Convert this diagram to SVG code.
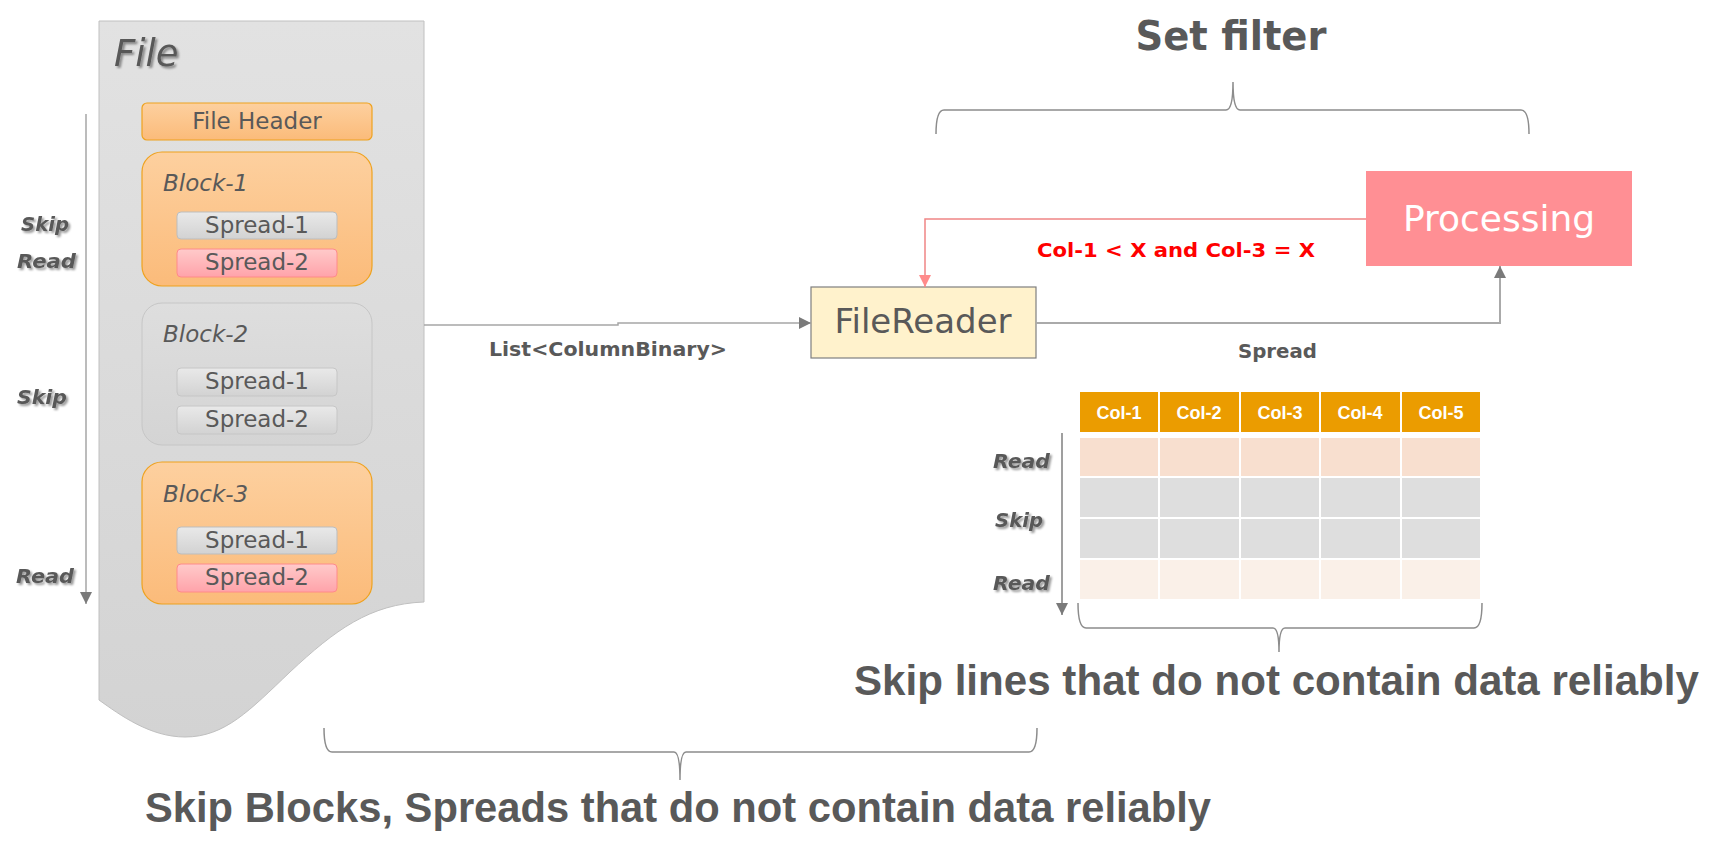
<svg xmlns="http://www.w3.org/2000/svg" width="1721" height="858" viewBox="0 0 1721 858">
<style>
.lbl{font-family:"DejaVu Sans",Verdana,sans-serif;fill:#595959}
.sh{filter:url(#shadow)}
.bi{font-weight:bold;font-style:italic;font-size:20px}
.big{font-family:"Liberation Sans",Arial,sans-serif;font-weight:bold;fill:#595959}
.spread{font-family:"DejaVu Sans",Verdana,sans-serif;font-size:23px;fill:#595959;text-anchor:middle}
.blk{font-family:"DejaVu Sans",Verdana,sans-serif;font-size:23px;font-style:italic;fill:#595959}
.brace{fill:none;stroke:#8c8c8c;stroke-width:1.5}
.hdr{font-family:"Liberation Sans",Arial,sans-serif;font-weight:bold;font-size:18px;fill:#ffffff;text-anchor:middle}
</style>
<defs>
<linearGradient id="gFile" x1="0" y1="0" x2="0" y2="1"><stop offset="0" stop-color="#e2e2e2"/><stop offset="1" stop-color="#d3d3d3"/></linearGradient>
<linearGradient id="gOr" x1="0" y1="0" x2="0" y2="1"><stop offset="0" stop-color="#fdd09f"/><stop offset="1" stop-color="#fbbb7a"/></linearGradient>
<linearGradient id="gGr" x1="0" y1="0" x2="0" y2="1"><stop offset="0" stop-color="#e9e9e9"/><stop offset="1" stop-color="#d2d2d2"/></linearGradient>
<linearGradient id="gPk" x1="0" y1="0" x2="0" y2="1"><stop offset="0" stop-color="#ffcaca"/><stop offset="1" stop-color="#ffa3aa"/></linearGradient>
<linearGradient id="gB2" x1="0" y1="0" x2="0" y2="1"><stop offset="0" stop-color="#dedede"/><stop offset="1" stop-color="#d4d4d4"/></linearGradient>
<filter id="shadow" x="-20%" y="-30%" width="150%" height="170%"><feDropShadow dx="2" dy="2" stdDeviation="1.2" flood-color="#000" flood-opacity="0.4"/></filter>
<marker id="aGray" viewBox="0 0 12 12" refX="12" refY="6" markerWidth="12" markerHeight="12" markerUnits="userSpaceOnUse" orient="auto"><path d="M0,0 L12,6 L0,12 z" fill="#7a7a7a"/></marker>
<marker id="aPink" viewBox="0 0 12 12" refX="12" refY="6" markerWidth="12" markerHeight="12" markerUnits="userSpaceOnUse" orient="auto"><path d="M0,0 L12,6 L0,12 z" fill="#ff8b8b"/></marker>
</defs>

<g id="file">
<path d="M99,21 L424,21 L424,602 C370,604 335,630 290,672 C250,710 225,737 185,737 C150,737 120,715 99,700 Z" fill="url(#gFile)" stroke="#c0c0c0" stroke-width="1"/>
<text class="lbl sh" x="114" y="66" font-size="37" font-style="italic">File</text>
</g>

<g id="file-header">
<rect x="142" y="103" width="230" height="37" rx="5" fill="url(#gOr)" stroke="#eea21f" stroke-width="1.2"/>
<text class="spread" x="257" y="129">File Header</text>
</g>

<g id="block-1">
<rect x="142" y="152" width="230" height="134" rx="20" fill="url(#gOr)" stroke="#eea21f" stroke-width="1.2"/>
<text class="blk" x="163" y="191">Block-1</text>
<rect x="177" y="212" width="160" height="27" rx="4" fill="url(#gGr)" stroke="#bdbdbd"/>
<text class="spread" x="257" y="233">Spread-1</text>
<rect x="177" y="249" width="160" height="28" rx="4" fill="url(#gPk)" stroke="#ff8a8a"/>
<text class="spread" x="257" y="270">Spread-2</text>
</g>

<g id="block-2">
<rect x="142" y="303" width="230" height="142" rx="20" fill="url(#gB2)" stroke="#c6c6c6" stroke-width="1"/>
<text class="blk" x="163" y="342">Block-2</text>
<rect x="177" y="368" width="160" height="28" rx="4" fill="url(#gGr)" stroke="#c6c6c6"/>
<text class="spread" x="257" y="389">Spread-1</text>
<rect x="177" y="406" width="160" height="28" rx="4" fill="url(#gGr)" stroke="#c6c6c6"/>
<text class="spread" x="257" y="427">Spread-2</text>
</g>

<g id="block-3">
<rect x="142" y="462" width="230" height="142" rx="20" fill="url(#gOr)" stroke="#eea21f" stroke-width="1.2"/>
<text class="blk" x="163" y="502">Block-3</text>
<rect x="177" y="527" width="160" height="27" rx="4" fill="url(#gGr)" stroke="#bdbdbd"/>
<text class="spread" x="257" y="548">Spread-1</text>
<rect x="177" y="564" width="160" height="28" rx="4" fill="url(#gPk)" stroke="#ff8a8a"/>
<text class="spread" x="257" y="585">Spread-2</text>
</g>

<g id="file-scan">
<line x1="86" y1="114" x2="86" y2="604" stroke="#a6a6a6" stroke-width="1.5" marker-end="url(#aGray)"/>
<text class="lbl sh bi" x="21" y="231" textLength="48" lengthAdjust="spacingAndGlyphs">Skip</text>
<text class="lbl sh bi" x="17" y="268" textLength="59" lengthAdjust="spacingAndGlyphs">Read</text>
<text class="lbl sh bi" x="17" y="404" textLength="50" lengthAdjust="spacingAndGlyphs">Skip</text>
<text class="lbl sh bi" x="16" y="583" textLength="58" lengthAdjust="spacingAndGlyphs">Read</text>
</g>

<g id="filereader">
<rect x="811" y="287" width="225" height="71" fill="#fff2cc" stroke="#7f7f7f" stroke-width="1.2"/>
<text class="lbl" x="923" y="333" font-size="34" text-anchor="middle">FileReader</text>
</g>

<g id="processing">
<rect x="1366" y="171" width="266" height="95" fill="#ff8f94"/>
<text x="1499" y="231" font-family="DejaVu Sans,Verdana,sans-serif" font-size="36" fill="#ffffff" text-anchor="middle">Processing</text>
</g>

<g id="connectors">
<polyline points="424,325 618,325 618,323 811,323" fill="none" stroke="#a6a6a6" stroke-width="1.5" marker-end="url(#aGray)"/>
<text class="lbl" x="489" y="356" font-size="19" font-weight="bold" textLength="238" lengthAdjust="spacingAndGlyphs">List&lt;ColumnBinary&gt;</text>
<polyline points="1366,219 925,219 925,287" fill="none" stroke="#f08585" stroke-width="1.5" marker-end="url(#aPink)"/>
<text x="1037" y="257" font-family="DejaVu Sans,Verdana,sans-serif" font-size="20" font-weight="bold" fill="#ff0000" textLength="278" lengthAdjust="spacingAndGlyphs">Col-1 &lt; X and Col-3 = X</text>
<polyline points="1036,323 1500,323 1500,266" fill="none" stroke="#aaaaaa" stroke-width="2" marker-end="url(#aGray)"/>
<text class="lbl" x="1238" y="358" font-size="19" font-weight="bold" textLength="79" lengthAdjust="spacingAndGlyphs">Spread</text>
</g>

<g id="set-filter">
<text x="1231" y="50" font-family="DejaVu Sans,Verdana,sans-serif" font-weight="bold" font-size="40" fill="#595959" text-anchor="middle" textLength="191" lengthAdjust="spacingAndGlyphs">Set filter</text>
<path class="brace" d="M936,134 Q936,110 944,110 L1226,110 Q1233,110 1233,82 Q1233,110 1240,110 L1521,110 Q1529,110 1529,134"/>
</g>

<g id="table">
<g fill="#eb9c00">
<rect x="1080" y="392" width="78" height="40"/><rect x="1160" y="392" width="79" height="40"/><rect x="1241" y="392" width="78" height="40"/><rect x="1321" y="392" width="79" height="40"/><rect x="1402" y="392" width="78" height="40"/>
</g>
<text class="hdr" x="1119" y="419">Col-1</text>
<text class="hdr" x="1199" y="419">Col-2</text>
<text class="hdr" x="1280" y="419">Col-3</text>
<text class="hdr" x="1360" y="419">Col-4</text>
<text class="hdr" x="1441" y="419">Col-5</text>
<g fill="#f8dfcf">
<rect x="1080" y="438" width="78" height="38"/><rect x="1160" y="438" width="79" height="38"/><rect x="1241" y="438" width="78" height="38"/><rect x="1321" y="438" width="79" height="38"/><rect x="1402" y="438" width="78" height="38"/>
</g>
<g fill="#dedede">
<rect x="1080" y="478" width="78" height="39"/><rect x="1160" y="478" width="79" height="39"/><rect x="1241" y="478" width="78" height="39"/><rect x="1321" y="478" width="79" height="39"/><rect x="1402" y="478" width="78" height="39"/>
<rect x="1080" y="519" width="78" height="39"/><rect x="1160" y="519" width="79" height="39"/><rect x="1241" y="519" width="78" height="39"/><rect x="1321" y="519" width="79" height="39"/><rect x="1402" y="519" width="78" height="39"/>
</g>
<g fill="#faf0e8">
<rect x="1080" y="560" width="78" height="39"/><rect x="1160" y="560" width="79" height="39"/><rect x="1241" y="560" width="78" height="39"/><rect x="1321" y="560" width="79" height="39"/><rect x="1402" y="560" width="78" height="39"/>
</g>
<line x1="1062" y1="433" x2="1062" y2="615" stroke="#7f7f7f" stroke-width="1.5" marker-end="url(#aGray)"/>
<text class="lbl sh bi" x="993" y="468" textLength="57" lengthAdjust="spacingAndGlyphs">Read</text>
<text class="lbl sh bi" x="995" y="527" textLength="48" lengthAdjust="spacingAndGlyphs">Skip</text>
<text class="lbl sh bi" x="993" y="590" textLength="57" lengthAdjust="spacingAndGlyphs">Read</text>
<path class="brace" d="M1078,603 Q1078,628 1086,628 L1273,628 Q1279,628 1279,652 Q1279,628 1285,628 L1474,628 Q1482,628 1482,603"/>
<text class="big" x="854" y="695" font-size="43" textLength="845" lengthAdjust="spacingAndGlyphs">Skip lines that do not contain data reliably</text>
</g>

<g id="bottom-note">
<path class="brace" d="M324,728 Q324,752 332,752 L674,752 Q680,752 680,780 Q680,752 686,752 L1029,752 Q1037,752 1037,728"/>
<text class="big" x="145" y="822" font-size="43" textLength="1066" lengthAdjust="spacingAndGlyphs">Skip Blocks, Spreads that do not contain data reliably</text>
</g>
</svg>
